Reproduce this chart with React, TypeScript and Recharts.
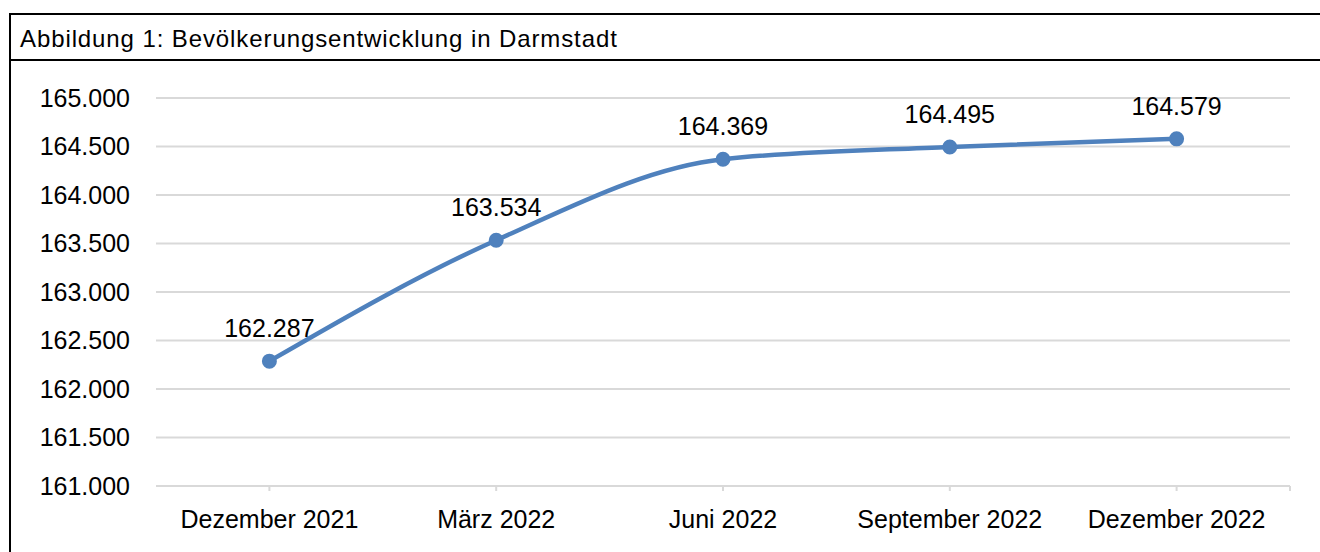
import React from "react";
import { LineChart, Line, XAxis, YAxis, CartesianGrid, LabelList } from "recharts";

const categories = ["Dezember 2021", "März 2022", "Juni 2022", "September 2022", "Dezember 2022"];
const population = [162287, 163534, 164369, 164495, 164579];
const yTicks = [161000, 161500, 162000, 162500, 163000, 163500, 164000, 164500, 165000];
const title = "Abbildung 1: Bevölkerungsentwicklung in Darmstadt";

const data = categories.map((c, i) => ({ name: c, value: population[i] }));

const fmt = (v: number) => v.toString().replace(/\B(?=(\d{3})+(?!\d))/g, ".");
const FONT = "'Liberation Sans', Arial, sans-serif";

const XTick = (props: any) => {
  const { x, y, payload, index } = props;
  const half = 113.4;
  return (
    <g>
      <text x={x} y={y} dy={28} textAnchor="middle" fill="#000" fontSize={25} fontFamily={FONT}>
        {payload.value}
      </text>
      {index === categories.length - 1 ? (
        <line x1={x + half} x2={x + half} y1={y - 14} y2={y - 9} stroke="#d9d9d9" strokeWidth={2} />
      ) : null}
    </g>
  );
};

export default function App() {
  return (
    <div style={{ position: "absolute", left: 0, top: 0, width: 1320, height: 552, background: "#fff", overflow: "hidden", fontFamily: FONT }}>
      <div style={{ position: "absolute", left: 9, top: 13, width: 1400, height: 600, border: "2px solid #000", boxSizing: "border-box" }} />
      <div style={{ position: "absolute", left: 9, top: 59, width: 1400, height: 2, background: "#000" }} />
      <div style={{ position: "absolute", left: 20, top: 27, fontSize: 24, lineHeight: "24px", letterSpacing: 0.9, color: "#000", whiteSpace: "nowrap" }}>{title}</div>
      <div style={{ position: "absolute", left: 0, top: 0 }}>
        <LineChart width={1320} height={552} data={data} margin={{ top: 98, right: 30, bottom: 36, left: 0 }}>
          <CartesianGrid vertical={false} stroke="#d9d9d9" strokeWidth={2} />
          <XAxis
            dataKey="name"
            scale="band"
            axisLine={{ stroke: "#d9d9d9", strokeWidth: 2 }}
            tickLine={{ stroke: "#d9d9d9", strokeWidth: 2 }}
            tickSize={5}
            tickMargin={9}
            interval={0}
            tick={<XTick />}
          />
          <YAxis
            width={156}
            domain={[161000, 165000]}
            ticks={yTicks}
            axisLine={false}
            tickLine={false}
            tickSize={0}
            tickMargin={26}
            tickFormatter={fmt}
            tick={{ fill: "#000", fontSize: 25, fontFamily: FONT }}
            interval={0}
          />
          <Line
            type="monotone"
            dataKey="value"
            stroke="#4f81bd"
            strokeWidth={4.5}
            dot={{ r: 6.5, fill: "#4f81bd", stroke: "#4f81bd", strokeWidth: 2 }}
            isAnimationActive={false}
          >
            <LabelList dataKey="value" position="top" offset={24} formatter={(v: any) => fmt(v)} fill="#000" fontSize={25} fontFamily={FONT} />
          </Line>
        </LineChart>
      </div>
    </div>
  );
}
